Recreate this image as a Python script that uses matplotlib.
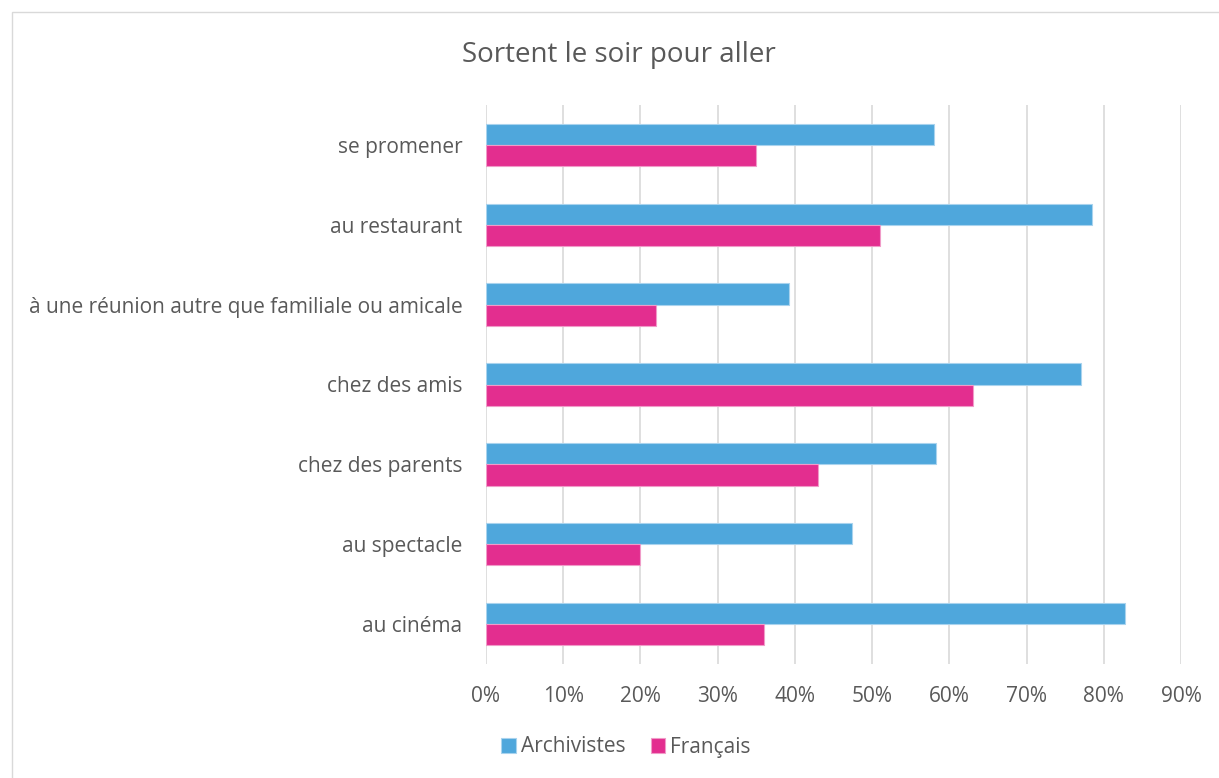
import numpy as np
import matplotlib
matplotlib.use("Agg")
import matplotlib.pyplot as plt
from matplotlib.patches import Rectangle
from matplotlib.ticker import PercentFormatter

categories = ["se promener", "au restaurant", "à une réunion autre que familiale ou amicale",
              "chez des amis", "chez des parents", "au spectacle", "au cinéma"]
archivistes = [0.580, 0.785, 0.392, 0.771, 0.583, 0.474, 0.828]
francais = [0.350, 0.510, 0.220, 0.630, 0.430, 0.200, 0.360]

blue = "#4FA7DC"
pink = "#E32E8F"
grey_txt = "#595959"

plt.rcParams['font.family'] = ['Open Sans', 'DejaVu Sans']

fig = plt.figure(figsize=(12.19, 7.78), dpi=100)
# cadre du graphique
fig.patches.append(Rectangle((12/1219, -0.01), 1.02, 1 - 12/778 + 0.01, transform=fig.transFigure,
                             fill=False, edgecolor="#d9d9d9", linewidth=1))

ax = fig.add_axes([486/1219, 1 - 664/778, 695/1219, 559/778])

y = np.arange(len(categories))[::-1]
h = 0.265
ax.barh(y + h/2, archivistes, height=h, color=blue, edgecolor="#a9d3ee", linewidth=0.8, label="Archivistes", zorder=3)
ax.barh(y - h/2, francais, height=h, color=pink, edgecolor="#f09bc8", linewidth=0.8, label="Français", zorder=3)

ax.set_xlim(0, 0.9)
ax.set_ylim(-0.5, len(categories) - 0.5)
ax.set_xticks(np.arange(0, 0.91, 0.1))
ax.xaxis.set_major_formatter(PercentFormatter(1.0, decimals=0))
ax.set_yticks(y)
ax.set_yticklabels(categories)
ax.tick_params(axis="both", length=0, labelsize=15, colors=grey_txt)
ax.tick_params(axis="x", pad=16)
ax.tick_params(axis="y", pad=17)
ax.grid(axis="x", color="#d9d9d9", linewidth=1.2, zorder=0)
for s in ax.spines.values():
    s.set_visible(False)

fig.text(619/1219, 1 - 55/778, "Sortent le soir pour aller", ha="center", va="center",
         fontsize=20, color=grey_txt)

fig.legend(loc="center", bbox_to_anchor=(626/1219, 1 - 747/778), ncol=2, frameon=False,
           fontsize=15, labelcolor=grey_txt, handlelength=0.7, handleheight=0.7,
           handletextpad=0.25, columnspacing=1.2)

fig.savefig("out.png", dpi=100)
